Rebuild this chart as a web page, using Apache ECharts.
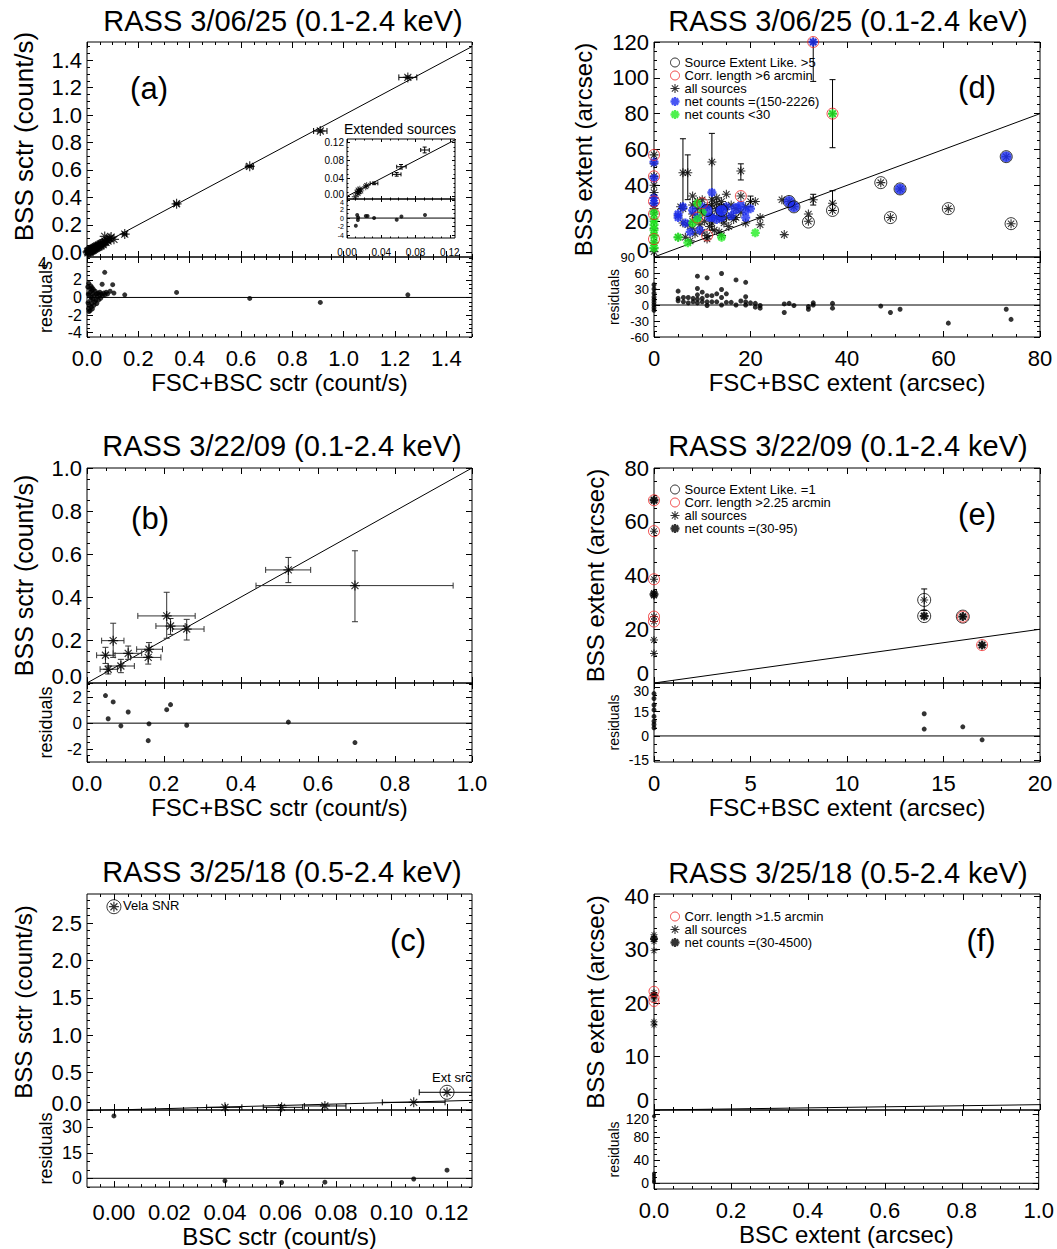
<!DOCTYPE html>
<html><head><meta charset="utf-8">
<script src="https://cdn.jsdelivr.net/npm/echarts@6/dist/echarts.min.js"></script>
<style>html,body{margin:0;padding:0;background:#fff}#c{width:1057px;height:1249px}</style>
</head><body><div id="c"></div><script>
const FONT = "'Liberation Sans', Arial, Helvetica, sans-serif";

// ---------------- DATA ----------------
// Panel (a): RASS 3/06/25, count rates
const aPts = [[0.002,0.003],[0.004,-0.005],[0.005,0.009],[0.007,0.002],[0.008,0.012],[0.01,0.006],[0.011,0.016],[0.012,-0.002],[0.013,0.01],[0.015,0.02],[0.016,0.008],[0.018,0.014],[0.019,0.024],[0.021,0.012],[0.022,0.02],[0.024,0.03],[0.025,0.016],[0.027,0.024],[0.028,0.034],[0.03,0.022],[0.032,0.03],[0.033,0.04],[0.035,0.028],[0.037,0.036],[0.039,0.046],[0.041,0.034],[0.043,0.042],[0.045,0.052],[0.047,0.04],[0.05,0.05],[0.052,0.06],[0.055,0.047],[0.058,0.058],[0.06,0.068],[0.063,0.055],[0.066,0.07],[0.069,0.115],[0.07,0.08],[0.074,0.072],[0.078,0.088],[0.082,0.082],[0.086,0.098],[0.09,0.1],[0.094,0.11],[0.105,0.094],[0.147,0.132],[0.349,0.353],[0.634,0.626],[0.909,0.884],[1.25,1.275]];
const aErr = [[1.25,1.275,1.215,1.285,1.265,1.285],[0.909,0.884,0.883,0.935,0.876,0.892],[0.634,0.626,0.62,0.648,0.62,0.632],[0.349,0.353,0.34,0.358,0.347,0.359],[0.147,0.132,0.14,0.154,0.125,0.139]];
const aRes = [[0.147,0.3],[0.349,0.57],[0.634,-0.11],[0.909,-0.57],[1.25,0.3],[0.069,2.86],[0.1,1.45],[0.059,1.5],[0.105,0.5],[0.003,1.2],[0.004,-0.6],[0.005,0.4],[0.006,-1.3],[0.007,1.6],[0.008,-1.6],[0.009,0.2],[0.01,-0.9],[0.011,1.0],[0.012,-1.5],[0.013,0.6],[0.014,-0.3],[0.015,1.3],[0.016,-1.1],[0.017,0.0],[0.018,0.8],[0.019,-0.7],[0.02,1.1],[0.021,-1.3],[0.022,0.4],[0.024,-0.2],[0.025,0.9],[0.027,-0.9],[0.028,0.2],[0.03,-0.5],[0.032,0.7],[0.034,-0.3],[0.036,0.4],[0.038,-0.7],[0.04,0.1],[0.042,0.5],[0.045,-0.3],[0.048,0.3],[0.05,0.6],[0.053,-0.1],[0.056,0.4],[0.06,0.2],[0.065,0.5],[0.07,0.3],[0.075,0.6],[0.08,0.4],[0.09,0.7]];
const aLine = [[0,0],[1.5,1.5]];
const aXTicks = [0,0.2,0.4,0.6,0.8,1.0,1.2,1.4];
const aYTicks = [0,0.2,0.4,0.6,0.8,1.0,1.2,1.4];
const aRTicks = [-4,-2,0,2,4];
// inset of (a): extended sources
const aInsetPts = [[0.0096,-0.001],[0.012,0.008],[0.013,0.014],[0.014,0.011],[0.015,0.016],[0.013,0.006],[0.016,0.012],[0.0219,0.0215],[0.023,0.024]];
const aInsetErr = [[0.0316,0.029,0.027,0.036,0.026,0.032],[0.058,0.049,0.053,0.063,0.045,0.053],[0.063,0.066,0.058,0.069,0.061,0.071],[0.0906,0.1034,0.086,0.096,0.097,0.11]];
const aInsetRes = [[0.0103,-1.75],[0.0119,0.7],[0.0127,-0.45],[0.013,0.15],[0.0219,0.5],[0.024,0.5],[0.0316,0],[0.058,-0.4],[0.0635,0.35],[0.091,0.7]];
const aInsetLine = [[0,0],[0.13,0.13]];
const insetTicks = [0,0.04,0.08,0.12];
const insetRTicks = [-4,-2,0,2,4];

// Panel (b): RASS 3/22/09
const bPts = [[0.523,0.526],[0.696,0.453],[0.207,0.312],[0.217,0.265],[0.259,0.251],[0.068,0.197],[0.048,0.129],[0.055,0.064],[0.088,0.079],[0.107,0.138],[0.161,0.157],[0.159,0.119]];
const bErr = [[0.523,0.526,0.464,0.581,0.467,0.584],[0.696,0.453,0.439,0.951,0.285,0.615],[0.207,0.312,0.132,0.281,0.208,0.422],[0.217,0.265,0.179,0.255,0.226,0.30],[0.259,0.251,0.222,0.304,0.2,0.296],[0.068,0.197,0.038,0.096,0.119,0.278],[0.048,0.129,0.025,0.073,0.091,0.166],[0.055,0.064,0.034,0.079,0.042,0.079],[0.088,0.079,0.055,0.123,0.048,0.11],[0.107,0.138,0.068,0.142,0.11,0.172],[0.161,0.157,0.129,0.196,0.122,0.188],[0.159,0.119,0.113,0.192,0.088,0.153]];
const bRes = [[0.048,2.13],[0.068,1.64],[0.055,0.34],[0.088,-0.21],[0.107,0.86],[0.161,-0.05],[0.159,-1.35],[0.207,1.04],[0.217,1.43],[0.259,-0.16],[0.523,0.08],[0.696,-1.5]];
const bLine = [[0,0],[1,1]];
const bXTicks = [0,0.2,0.4,0.6,0.8,1.0];
const bYTicks = [0,0.2,0.4,0.6,0.8,1.0];
const bRTicks = [-2,0,2];

// Panel (c): RASS 3/25/18
const cPts = [[0.0,2.72],[0.04,0.036],[0.0604,0.036],[0.076,0.054],[0.108,0.103],[0.12,0.237]];
const cCircles = [[0.0,2.72],[0.12,0.237]];
const cErr = [[0.04,0.036,0.0334,0.0461,0.036,0.036],[0.0604,0.036,0.0538,0.068,0.036,0.036],[0.076,0.054,0.0686,0.0836,0.054,0.054],[0.108,0.103,0.0967,0.1193,0.103,0.103],[0.12,0.237,0.110,0.129,0.237,0.237]];
const cRes = [[0,36.8],[0.04,-1.5],[0.0604,-2.5],[0.076,-2.3],[0.108,-0.4],[0.12,4.8]];
const cLine = [[-0.01,-0.01],[0.13,0.13]];
const cXTicks = [0,0.02,0.04,0.06,0.08,0.10,0.12];
const cYTicks = [0,0.5,1.0,1.5,2.0,2.5];
const cRTicks = [0,15,30];

// Panel (d): RASS 3/06/25 extents
const dAll = [[0,57],[0,52],[0,45],[0,40],[0,36],[0,33],[0,30],[0,27],[0,24],[0,20],[0,16],[0,12],[0,8],[0,5],[0,3],
 [5,23],[5,11],[5.5,28],[6,27],[6,19],[6,47],[7,47],[6.5,11],[7,18],[7.5,9],[8,34],[8,29],[8,24],[8,20],[8,16],[8.5,13],[9,31],[9,27],[9,22],[9.5,18],[10,32],[10,25],[10,14],[10.5,20],[11,28],[11,12],[11,10],[11.5,17],[12,53],[12,32],[12,29],[12,23],[12,19],[12.5,15],[13,30],[13,27],[13,33],[13,22],[13.5,14],[14,31],[14,28],[14,25],[14,21],[14,12],[14.5,19],[15,35],[15,28],[15,22],[15.5,17],[16,29],[16,23],[16.5,21],[17,27],[17,22],[18,48],[18,34],[18,25],[19,28],[19,19],[20,31],[21,31],[22,22],[22,18],[26.5,32],[27,12.5],[28,31],[29,28],[32,24],[32,20],[33,32],[37,30],[37,26],[47,41.5],[49,22],[51,38],[61,27],[73,56],[74,18.6],[33,120],[37,80]];
const dBlue = [[0,53],[0,44],[0,33],[0,30],[5,24],[5,22],[6,28],[6.5,19],[7.5,14],[8,26],[9,22],[9.5,15],[10,28],[11.5,22],[12,36],[12,22],[13,21],[13.5,26],[14,22],[15,28],[16,23],[18,29],[19,26],[19,22],[20,27],[33,120]];
const dBlueDisc = [[11,26],[14,26],[17,27],[28,31],[29,28],[51,38],[73,56]];
const dGreen = [[0,25],[0,21],[0,18],[0,15],[0,12],[0,8],[0,5],[5,11],[7,8],[9,30],[9,21],[10,25],[8,19],[14,11],[21,13.5],[37,80]];
const dCircBlack = [[11,26],[14,26],[28,31],[29,28],[32,19.5],[37,26],[47,41.5],[49,22],[51,38],[61,27],[73,56],[74,18.6]];
const dCircRed = [[0,57],[0,45],[0,31],[0,24],[0,10],[9,22],[10,30],[11,12],[18,34],[33,120],[37,80]];
const dErr = [[6,47,6,6,29,66],[7,47,7,7,32,57],[12,53,12,12,15,69],[18,48,18,18,43,52],[37,80,37,37,61,99],[33,120,33,33,98,140],[37,30,37,37,26,37],[20,31,20,20,28,34],[33,32,33,33,29,35]];
const dRes = [[0,38],[0,30],[0,22],[0,15],[0,10],[0,5],[0,0],[0,-5],[0,-10],[5,26],[5,12.5],[5,8],[6.1,14],[6.1,6],[7.1,14],[7.1,4],[8.1,12.5],[8.1,6],[9,54],[9,31],[9,19],[9,11],[9,4],[10,24],[10,12.5],[10,6],[11,51],[11,17.5],[11,6],[11,-1],[12,17.5],[12,6],[13,21],[13,6],[14,59],[14,29],[14,14],[14,0],[15,21],[15,5],[16,5],[17,47],[17,0],[18,7.5],[19,42.5],[19,15.6],[19,6],[19,0],[20,4],[21,3],[21,-4],[22,-1],[22,-6],[27,2],[27,-14],[28,3],[29,-1],[32,-3],[32,-8],[33,4],[33,0],[37,3],[37,-6],[47,-2],[49,-14],[51,-8],[61,-34],[73,-8],[74,-27]];
const dLine = [[0,0],[80,80]];
const dXTicks = [0,20,40,60,80];
const dYTicks = [0,20,40,60,80,100,120];
const dRTicks = [-60,-30,0,30,60,90];

// Panel (e): RASS 3/22/09 extents
const eAll = [[0,68],[0,56.5],[0,38.6],[0,33.5],[0,32.5],[0,24.7],[0,22.9],[0,16],[0,11],[14,30.9],[14,24.9],[16,24.7],[17,14.1]];
const eNet = [[0,68],[0,33],[14,24.9],[16,24.7],[17,14.1]];
const eCircBlack = [[14,30.9],[14,24.9],[16,24.7]];
const eCircRed = [[16,24.7],[17,14.1],[0,68],[0,56.5],[0,38.6],[0,24.7],[0,22.9]];
const eErr = [[14,30.9,14,14,27,35]];
const eRes = [[14,13.6],[14,4.2],[16,5.6],[17,-2.4],[0,26],[0,23],[0,19],[0,16],[0,12],[0,9],[0,7],[0,5]];
const eLine = [[0,0],[20,20]];
const eXTicks = [0,5,10,15,20];
const eYTicks = [0,20,40,60,80];
const eRTicks = [-15,0,15,30];

// Panel (f): RASS 3/25/18 extents
const fAll = [[0,32.8],[0,32.2],[0,31.5],[0,29.8],[0,22],[0,21.4],[0,20.6],[0,16.5],[0,15.9]];
const fNet = [[0,32],[0,21.4]];
const fCircRed = [[0,22.2],[0,21],[0,20.3]];
const fRes = [[0,117],[0,17],[0,13],[0,9],[0,5],[0,2]];
const fLine = [[0,0],[1,1]];
const fXTicks = [0,0.2,0.4,0.6,0.8,1.0];
const fYTicks = [0,10,20,30,40];
const fRTicks = [0,40,80,120];

// ---------------- BUILD ----------------
function asterPath(w){
  const a = w*0.7071, f = n => +n.toFixed(3);
  return 'path://' +
   `M${-w},-10L${w},-10L${w},10L${-w},10Z` +
   `M-10,${-w}L10,${-w}L10,${w}L-10,${w}Z` +
   `M${f(-7+a)},${f(-7-a)}L${f(7+a)},${f(7-a)}L${f(7-a)},${f(7+a)}L${f(-7-a)},${f(-7+a)}Z` +
   `M${f(-7-a)},${f(7-a)}L${f(7-a)},${f(-7-a)}L${f(7+a)},${f(-7+a)}L${f(-7+a)},${f(7+a)}Z`;
}
const AST = asterPath(1.2), ASTK = asterPath(2.6);
const RED = '#ee2020', BLUE = '#1a2cf0', GREEN = '#22ee22';

const grids = [], xAxes = [], yAxes = [], series = [];
function tickList(min, max, step){
  const out = []; const s = Math.ceil(min/step - 1e-9);
  for (let k = s; k*step <= max + 1e-9; k++) out.push(+(k*step).toFixed(10));
  return out;
}
function addGrid(c){
  const gi = grids.length;
  grids.push({left:c.box[0], top:c.box[1], width:c.box[2], height:c.box[3], show:true, borderColor:'#000', borderWidth:1, backgroundColor:'transparent'});
  const TL = c.tl || 6, TS = c.ts || 3;
  const mk = (r, pos, vals, len, extra) => {
    const ax = {type:'value', gridIndex:gi, position:pos, min:r[0], max:r[1],
      axisLine:{show:false, onZero:false}, splitLine:{show:false}, splitArea:{show:false},
      axisTick:{show:true, inside:true, length:len, customValues:vals, lineStyle:{color:'#000', width:1}},
      axisLabel:{show:false}, axisPointer:{show:false}, silent:true};
    if (extra) Object.assign(ax, extra);
    return ax;
  };
  const xMin = tickList(c.xr[0], c.xr[1], c.xm), yMin = tickList(c.yr[0], c.yr[1], c.ym);
  const xi = xAxes.length, yi = yAxes.length;
  xAxes.push(mk(c.xr,'bottom',c.xt,TL,c.xl));
  xAxes.push(mk(c.xr,'bottom',xMin,TS));
  xAxes.push(mk(c.xr,'top',c.xt,TL));
  xAxes.push(mk(c.xr,'top',xMin,TS));
  yAxes.push(mk(c.yr,'left',c.yt,TL,c.yl));
  yAxes.push(mk(c.yr,'left',yMin,TS,c.yl2));   // minor ticks; may carry one shifted edge label
  yAxes.push(mk(c.yr,'right',c.yt,TL));
  yAxes.push(mk(c.yr,'right',yMin,TS));
  return {xi, yi};
}
function xLab(vals, dec, size, name, gap, nsize, margin){
  const o = {axisLabel:{show:true, showMinLabel:true, showMaxLabel:true, customValues:vals, formatter:v=>(+v).toFixed(dec), fontSize:size, fontFamily:FONT, color:'#000', margin: margin==null?10:margin}};
  if (name) Object.assign(o, {name, nameLocation:'middle', nameGap:gap, nameTextStyle:{fontSize:nsize, fontFamily:FONT, color:'#000'}});
  return o;
}
// y labels (value 'skip' is drawn by yEdge on the companion axis instead)
function yLab(vals, dec, size, name, gap, nsize, margin, skip, namePad){
  const shown = vals.filter(v => !(skip!=null && Math.abs(v-skip)<1e-9));
  const o = {axisLabel:{show:true, showMinLabel:true, showMaxLabel:true, customValues:shown, margin: margin==null?5:margin,
      formatter:v=>(+v).toFixed(dec), fontSize:size, fontFamily:FONT, color:'#000'}};
  if (name) Object.assign(o, {name, nameLocation:'middle', nameGap:gap, nameRotate:90,
    nameTextStyle:{fontSize:nsize, fontFamily:FONT, color:'#000', padding: namePad || 0}});
  return o;
}
// one edge label moved up (up px) or down (down px), drawn on the companion (minor-tick) axis
function yEdge(val, dec, size, up, down, margin){
  const base = {fontSize:size, fontFamily:FONT, color:'#000'};
  return {axisLabel:Object.assign({show:true, showMinLabel:true, showMaxLabel:true, customValues:[val], margin: margin==null?5:margin,
    formatter:v=>'{e|'+(+v).toFixed(dec)+'}', rich:{e:Object.assign({padding:[2*down,0,2*up,0]}, base)}}, base)};
}
function lineS(ax, data, w){ series.push({type:'line', xAxisIndex:ax.xi, yAxisIndex:ax.yi, data, symbol:'none', showSymbol:false, silent:true, clip:true, lineStyle:{color:'#000', width:w||1}, z:2}); }
function scat(ax, data, name, symbol, size, style, z){ series.push({type:'scatter', name, xAxisIndex:ax.xi, yAxisIndex:ax.yi, data, symbol, symbolSize:size, silent:true, clip:false, itemStyle:style, z:z||3}); }
function errS(ax, data, color, cap){
  series.push({type:'custom', xAxisIndex:ax.xi, yAxisIndex:ax.yi, data, silent:true, clip:true, z:3,
    renderItem:(p, api)=>{
      const x=api.value(0), y=api.value(1), xl=api.value(2), xh=api.value(3), yl=api.value(4), yh=api.value(5);
      const ch=[]; const st={stroke:color, lineWidth:1, fill:null};
      if (xh>xl){ const a=api.coord([xl,y]), b=api.coord([xh,y]);
        ch.push({type:'line', shape:{x1:a[0],y1:a[1],x2:b[0],y2:b[1]}, style:st});
        ch.push({type:'line', shape:{x1:a[0],y1:a[1]-cap,x2:a[0],y2:a[1]+cap}, style:st});
        ch.push({type:'line', shape:{x1:b[0],y1:b[1]-cap,x2:b[0],y2:b[1]+cap}, style:st}); }
      if (yh>yl){ const a=api.coord([x,yl]), b=api.coord([x,yh]);
        ch.push({type:'line', shape:{x1:a[0],y1:a[1],x2:b[0],y2:b[1]}, style:st});
        ch.push({type:'line', shape:{x1:a[0]-cap,y1:a[1],x2:a[0]+cap,y2:a[1]}, style:st});
        ch.push({type:'line', shape:{x1:b[0]-cap,y1:b[1],x2:b[0]+cap,y2:b[1]}, style:st}); }
      return {type:'group', children:ch};
    }});
}
const dot = (ax, data, size) => scat(ax, data, 'res', 'circle', size||5, {color:'#000'}, 4);
const zero = (ax, xr) => lineS(ax, [[xr[0],0],[xr[1],0]]);

const LX = 87, RX = 654, W1 = 385, W2 = 386;
const BIG = 22, NAME = 24;

// ---- (a)
{
  const xr=[0,1.5], yr=[-0.035,1.533], rr=[-4.5,4.6];
  const m = addGrid({box:[LX,42,W1,215], xr, yr, xt:aXTicks, xm:0.05, yt:aYTicks, ym:0.05,
    yl:yLab(aYTicks,1,BIG,'BSS sctr (count/s)',50,26,null,null,[0,0,0,26])});
  const r = addGrid({box:[LX,257,W1,80], xr, yr:rr, xt:aXTicks, xm:0.05, yt:aRTicks, ym:0.5,
    xl:xLab(aXTicks,1,BIG,'FSC+BSC sctr (count/s)',33,NAME), yl:yLab(aRTicks,0,16,'residuals',32,18,null,4),
    yl2:yEdge(4,0,16,0,1.5,40)});
  lineS(m, aLine); errS(m, aErr, '#000', 3); scat(m, aPts, 'a', AST, 10, {color:'#000'});
  zero(r, xr); dot(r, aRes);
  const ixr=[0,0.126], iyr=[-0.006,0.128], irr=[-4.6,4.4];
  const im = addGrid({box:[347,139,108,60], xr:ixr, yr:iyr, xt:insetTicks, xm:0.01, yt:insetTicks, ym:0.01, tl:3, ts:1.5,
    yl:yLab(insetTicks,2,10,null,0,0,3,0), yl2:yEdge(0,2,10,2,0,3)});
  const ir = addGrid({box:[347,199,108,39], xr:ixr, yr:irr, xt:insetTicks, xm:0.01, yt:insetRTicks, ym:1, tl:3, ts:1.5,
    xl:xLab(insetTicks,2,10,null,0,0,9), yl:yLab(insetRTicks,0,7,null,0,0,3,4), yl2:yEdge(4,0,7,0,1.5,3)});
  lineS(im, aInsetLine); errS(im, aInsetErr, '#000', 2); scat(im, aInsetPts, 'ai', AST, 7, {color:'#000'});
  zero(ir, ixr); dot(ir, aInsetRes, 4);
}
// ---- (b)
{
  const xr=[0,1], yr=[0,1.0], rr=[-3,3.1];
  const m = addGrid({box:[LX,468,W1,215], xr, yr, xt:bXTicks, xm:0.05, yt:bYTicks, ym:0.05,
    yl:yLab(bYTicks,1,BIG,'BSS sctr (count/s)',51,25,null,0), yl2:yEdge(0,1,BIG,7,0)});
  const r = addGrid({box:[LX,683,W1,79], xr, yr:rr, xt:bXTicks, xm:0.05, yt:bRTicks, ym:0.5,
    xl:xLab(bXTicks,1,BIG,'FSC+BSC sctr (count/s)',33,NAME), yl:yLab(bRTicks,0,17,'residuals',32,18)});
  lineS(m, bLine); errS(m, bErr, '#333', 3); scat(m, bPts, 'b', AST, 10, {color:'#000'});
  zero(r, xr); dot(r, bRes);
}
// ---- (c)
{
  const xr=[-0.0097,0.129], yr=[0,2.89], rr=[-5.2,40.3];
  const m = addGrid({box:[LX,894,W1,216], xr, yr, xt:cXTicks, xm:0.005, yt:cYTicks, ym:0.1,
    yl:yLab(cYTicks,1,BIG,'BSS sctr (count/s)',52,NAME,null,0), yl2:yEdge(0,1,BIG,7,0)});
  const r = addGrid({box:[LX,1110,W1,79], xr, yr:rr, xt:cXTicks, xm:0.005, yt:cRTicks, ym:5,
    xl:xLab(cXTicks,2,BIG,'BSC sctr (count/s)',33,NAME,14), yl:yLab(cRTicks,0,18,'residuals',32,18)});
  lineS(m, cLine); errS(m, cErr, '#000', 3); scat(m, cPts, 'c', AST, 10, {color:'#000'});
  scat(m, cCircles, 'c2', 'circle', 14, {color:'transparent', borderColor:'#000', borderWidth:1});
  zero(r, xr); dot(r, cRes);
}
// ---- (d)
{
  const xr=[0,80], yr=[0,120], rr=[-60,90];
  const m = addGrid({box:[RX,42,W2,215], xr, yr, xt:dXTicks, xm:5, yt:dYTicks, ym:5,
    yl:yLab(dYTicks,0,BIG,'BSS extent (arcsec)',59,NAME,null,0), yl2:yEdge(0,0,BIG,7,0)});
  const r = addGrid({box:[RX,257,W2,80], xr, yr:rr, xt:dXTicks, xm:5, yt:dRTicks, ym:10,
    xl:xLab(dXTicks,0,BIG,'FSC+BSC extent (arcsec)',33,NAME), yl:yLab(dRTicks,0,13,'residuals',33,14,null,90),
    yl2:yEdge(90,0,13,0,0,19)});
  lineS(m, dLine); errS(m, dErr, '#000', 3);
  scat(m, dAll, 'all sources', AST, 9, {color:'#000'});
  scat(m, dBlue, 'net counts =(150-2226)', ASTK, 9, {color:BLUE}, 4);
  scat(m, dBlueDisc, 'net counts =(150-2226)', 'circle', 11, {color:BLUE}, 4);
  scat(m, dGreen, 'net counts <30', ASTK, 9, {color:GREEN}, 4);
  scat(m, dCircBlack, 'Source Extent Like. >5', 'circle', 12, {color:'transparent', borderColor:'#000', borderWidth:1}, 5);
  scat(m, dCircRed, 'Corr. length >6 arcmin', 'circle', 11, {color:'transparent', borderColor:RED, borderWidth:1}, 5);
  zero(r, xr); dot(r, dRes);
}
// ---- (e)
{
  const xr=[0,20], yr=[0,80], rr=[-16,32.5];
  const m = addGrid({box:[RX,468,W2,215], xr, yr, xt:eXTicks, xm:1, yt:eYTicks, ym:5,
    yl:yLab(eYTicks,0,BIG,'BSS extent (arcsec)',47,NAME,null,0), yl2:yEdge(0,0,BIG,10,0)});
  const r = addGrid({box:[RX,683,W2,79], xr, yr:rr, xt:eXTicks, xm:1, yt:eRTicks, ym:5,
    xl:xLab(eXTicks,0,BIG,'FSC+BSC extent (arcsec)',33,NAME), yl:yLab(eRTicks,0,14,'residuals',33,14,null,30),
    yl2:yEdge(30,0,14,0,4)});
  lineS(m, eLine); errS(m, eErr, '#000', 3);
  scat(m, eAll, 'all sources', AST, 8, {color:'#000'});
  scat(m, eNet, 'net counts =(30-95)', ASTK, 9, {color:'#000'}, 4);
  scat(m, eCircBlack, 'Source Extent Like. =1', 'circle', 13, {color:'transparent', borderColor:'#000', borderWidth:1}, 5);
  scat(m, eCircRed, 'Corr. length >2.25 arcmin', 'circle', 11, {color:'transparent', borderColor:RED, borderWidth:1}, 5);
  zero(r, xr); dot(r, eRes);
}
// ---- (f)
{
  const xr=[0,1], yr=[0,40.4], rr=[-10,128];
  const m = addGrid({box:[RX,894,W2,216], xr, yr, xt:fXTicks, xm:0.05, yt:fYTicks, ym:2,
    yl:yLab(fYTicks,0,BIG,'BSS extent (arcsec)',47,NAME,null,0), yl2:yEdge(0,0,BIG,10,0)});
  const r = addGrid({box:[RX,1110,W2,79], xr, yr:rr, xt:fXTicks, xm:0.05, yt:fRTicks, ym:10,
    xl:xLab(fXTicks,1,BIG,'BSC extent (arcsec)',33,NAME), yl:yLab(fRTicks,0,14,'residuals',33,14,null,120),
    yl2:yEdge(120,0,14,0,4)});
  lineS(m, fLine);
  scat(m, fAll, 'all sources', AST, 7, {color:'#000'});
  scat(m, fNet, 'net counts =(30-4500)', ASTK, 8, {color:'#000'}, 4);
  scat(m, fCircRed, 'Corr. length >1.5 arcmin', 'circle', 10, {color:'transparent', borderColor:RED, borderWidth:1}, 5);
  zero(r, xr); dot(r, fRes, 4);
}

const circIcon = c => ({icon:'circle', itemStyle:{color:'transparent', borderColor:c, borderWidth:1}});
const legBase = {orient:'vertical', itemGap:0, itemWidth:9, itemHeight:9, padding:0, selectedMode:false,
  textStyle:{fontSize:13, fontFamily:FONT, color:'#000', lineHeight:13}};
const legends = [
  Object.assign({}, legBase, {left:670, top:56, data:[
    Object.assign({name:'Source Extent Like. >5'}, circIcon('#000')),
    Object.assign({name:'Corr. length >6 arcmin'}, circIcon(RED)),
    {name:'all sources', icon:AST, itemStyle:{color:'#000'}},
    {name:'net counts =(150-2226)', icon:ASTK, itemStyle:{color:BLUE}},
    {name:'net counts <30', icon:ASTK, itemStyle:{color:GREEN}}]}),
  Object.assign({}, legBase, {left:670, top:483, data:[
    Object.assign({name:'Source Extent Like. =1'}, circIcon('#000')),
    Object.assign({name:'Corr. length >2.25 arcmin'}, circIcon(RED)),
    {name:'all sources', icon:AST, itemStyle:{color:'#000'}},
    {name:'net counts =(30-95)', icon:ASTK, itemStyle:{color:'#000'}}]}),
  Object.assign({}, legBase, {left:670, top:910, data:[
    Object.assign({name:'Corr. length >1.5 arcmin'}, circIcon(RED)),
    {name:'all sources', icon:AST, itemStyle:{color:'#000'}},
    {name:'net counts =(30-4500)', icon:ASTK, itemStyle:{color:'#000'}}]})
];

const txt = (text, x, y, size, align) => ({type:'text', x, y, silent:true, z:10,
  style:{text, fontSize:size, fontFamily:FONT, fill:'#000', textAlign:align||'center', textVerticalAlign:'middle', align:align||'center', verticalAlign:'middle'}});
const graphics = [
  txt('RASS 3/06/25 (0.1-2.4 keV)', 283, 21, 29),
  txt('RASS 3/22/09 (0.1-2.4 keV)', 282, 446, 29),
  txt('RASS 3/25/18 (0.5-2.4 keV)', 282, 872, 29),
  txt('RASS 3/06/25 (0.1-2.4 keV)', 848, 21, 29),
  txt('RASS 3/22/09 (0.1-2.4 keV)', 848, 446, 29),
  txt('RASS 3/25/18 (0.5-2.4 keV)', 848, 873, 29),
  txt('(a)', 149, 88, 31), txt('(b)', 150, 518, 31), txt('(c)', 408, 940, 31),
  txt('(d)', 977, 87, 31), txt('(e)', 977, 514, 31), txt('(f)', 981, 940, 31),
  txt('Extended sources', 400, 129, 14),
  txt('Vela SNR', 123, 905, 13, 'left'),
  txt('Ext src', 432, 1077, 13, 'left')
];

const chart = echarts.init(document.getElementById('c'), null, {renderer:'svg', width:1057, height:1249});
chart.setOption({animation:false, backgroundColor:'#fff', grid:grids, xAxis:xAxes, yAxis:yAxes, series, legend:legends, graphic:graphics});
</script></body></html>
